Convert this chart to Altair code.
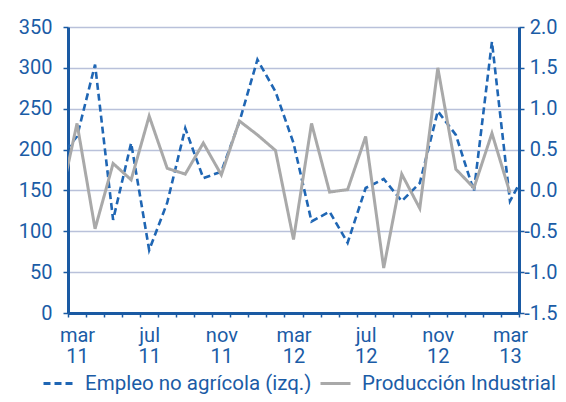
import altair as alt
import pandas as pd

# ---- data ----
# month index: 0 = mar 11 ... 24 = mar 13 (-1 = feb 11, 25 = abr 13, clipped at the edges)
meses = list(range(-1, 26))
empleo = [189, 216, 304, 114, 208, 77, 135, 226, 165, 173, 234, 310, 271, 208,
          112, 124, 86, 153, 164, 137, 159, 247, 218, 149, 332, 137, 178]
produccion = [-0.20, 0.82, -0.47, 0.33, 0.13, 0.91, 0.27, 0.20, 0.58, 0.19, 0.85,
              0.68, 0.49, -0.60, 0.82, -0.02, 0.01, 0.66, -0.95, 0.20, -0.22, 1.50,
              0.26, 0.03, 0.70, -0.03]
etiquetas = ["mar 11", "jul 11", "nov 11", "mar 12", "jul 12", "nov 12", "mar 13"]
serie_empleo = "Empleo no agrícola (izq.)"
serie_prod = "Producción Industrial"
izq_ticks = [0, 50, 100, 150, 200, 250, 300, 350]
der_ticks = [-1.5, -1.0, -0.5, 0.0, 0.5, 1.0, 1.5, 2.0]

df_emp = pd.DataFrame({"mes": meses, "valor": empleo, "serie": serie_empleo})
df_prod = pd.DataFrame({"mes": meses[:len(produccion)], "valor": produccion, "serie": serie_prod})

BLUE_TXT = "#1b5ca6"
AXIS_BLUE = "#1a5aa3"
LINE_BLUE = "#1f66b4"
GREY = "#a9a9a9"
GRID = "#b9c1da"
FONT = "Roboto"

arr = "[" + ",".join("['%s','%s']" % tuple(e.split(" ")) for e in etiquetas) + "]"
x_values = [i - 0.5 for i in range(26)] + [4 * k for k in range(len(etiquetas))]
x_enc = alt.X(
    "mes:Q",
    scale=alt.Scale(domain=[-0.5, 24.5], nice=False, zero=False),
    axis=alt.Axis(
        title=None,
        values=x_values,
        labelExpr="datum.value % 4 == 0 ? " + arr + "[datum.value / 4] : ''",
        tickOpacity={"condition": {"test": "datum.value % 4 == 0", "value": 0}, "value": 1},
        labelOverlap=False,
        labelFlush=False,
        grid=False,
        tickSize=4,
        tickWidth=1.5,
        labelPadding=8,
        labelLineHeight=21,
        labelBaseline="top",
    ),
)

color = alt.Color(
    "serie:N",
    title=None,
    scale=alt.Scale(domain=[serie_empleo, serie_prod], range=[LINE_BLUE, GREY]),
)
dash = alt.StrokeDash(
    "serie:N",
    title=None,
    scale=alt.Scale(domain=[serie_empleo, serie_prod], range=[[7, 4], [1, 0]]),
)

left = alt.Chart(df_emp).mark_line(clip=True, strokeWidth=2.6).encode(
    x=x_enc,
    y=alt.Y(
        "valor:Q",
        scale=alt.Scale(domain=[0, 350], nice=False),
        axis=alt.Axis(
            title=None, orient="left", values=izq_ticks, grid=True,
            gridColor=GRID, gridWidth=1.5, tickSize=5, labelPadding=11,
        ),
    ),
    color=color,
    strokeDash=dash,
)

right = alt.Chart(df_prod).mark_line(clip=True, strokeWidth=3).encode(
    x=x_enc,
    y=alt.Y(
        "valor:Q",
        scale=alt.Scale(domain=[-1.5, 2.0], nice=False, zero=False),
        axis=alt.Axis(
            title=None, orient="right", values=der_ticks, grid=False,
            tickSize=5, labelPadding=33, labelAlign="right",
            labelExpr="(datum.value < 0 ? '-' : '') + format(abs(datum.value), '.1f')",
        ),
    ),
    color=color,
    strokeDash=dash,
)

chart = (
    alt.layer(left, right)
    .resolve_scale(y="independent")
    .properties(
        width=451,
        height=286,
        padding={"left": 60, "top": 19, "right": 39, "bottom": 81},
        autosize=alt.AutoSizeParams(type="none"),
        background="white",
    )
    .configure_view(stroke=None)
    .configure_axis(
        labelFont=FONT,
        labelFontSize=20,
        labelColor=BLUE_TXT,
        domainColor=AXIS_BLUE,
        domainWidth=3,
        tickColor=AXIS_BLUE,
        tickWidth=1.5,
    )
    .configure_legend(
        orient="none",
        direction="horizontal",
        legendX=-26,
        legendY=340,
        labelFont=FONT,
        labelFontSize=20.5,
        labelColor=BLUE_TXT,
        symbolType="stroke",
        symbolSize=900,
        symbolStrokeWidth=3,
        labelOffset=10,
        columnPadding=2,
        labelLimit=400,
        padding=0,
    )
)

chart.save("out.html", embed_options={"renderer": "svg", "actions": False})
